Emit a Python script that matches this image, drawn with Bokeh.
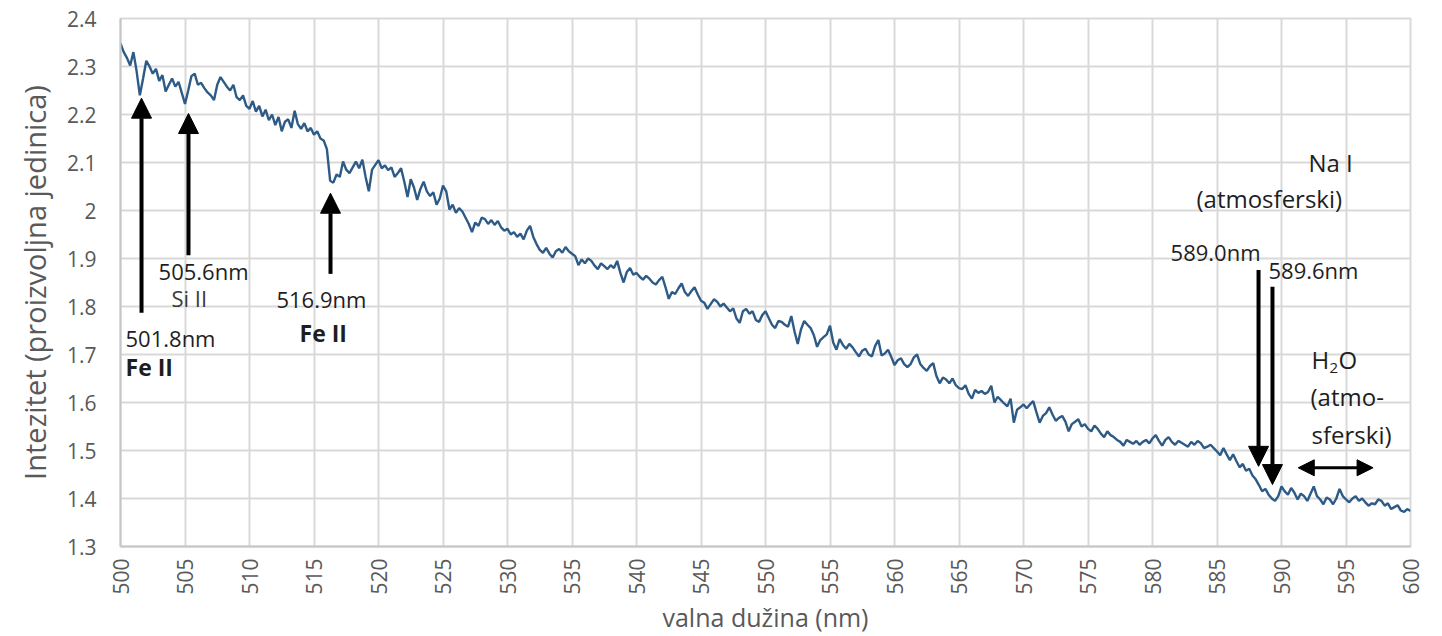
import numpy as np
from bokeh.plotting import figure
from bokeh.models import (Range1d, FixedTicker, NumeralTickFormatter, Label, Arrow,
                          NormalHead, ColumnDataSource)
from bokeh.embed import file_html
from bokeh.resources import INLINE

# ---------------- data ----------------
wl_start = 500.0
wl_step = 0.25
intensity = [
    2.348, 2.330, 2.318, 2.302, 2.330, 2.290, 2.240, 2.275, 2.312, 2.300, 2.285, 2.295,
    2.270, 2.282, 2.248, 2.262, 2.275, 2.258, 2.268, 2.245, 2.222, 2.250, 2.280, 2.285,
    2.262, 2.266, 2.255, 2.246, 2.240, 2.230, 2.262, 2.278, 2.268, 2.258, 2.250, 2.262,
    2.236, 2.230, 2.240, 2.218, 2.212, 2.228, 2.206, 2.218, 2.196, 2.210, 2.188, 2.200,
    2.178, 2.195, 2.165, 2.185, 2.190, 2.172, 2.208, 2.180, 2.170, 2.182, 2.165, 2.172,
    2.158, 2.165, 2.150, 2.146, 2.128, 2.062, 2.058, 2.075, 2.070, 2.102, 2.085, 2.078,
    2.090, 2.102, 2.088, 2.106, 2.070, 2.040, 2.085, 2.095, 2.105, 2.088, 2.094, 2.084,
    2.090, 2.070, 2.078, 2.088, 2.060, 2.028, 2.065, 2.048, 2.022, 2.045, 2.060, 2.040,
    2.030, 2.038, 2.012, 2.025, 2.052, 2.040, 2.002, 2.012, 1.995, 2.005, 1.998, 1.985,
    1.972, 1.955, 1.975, 1.968, 1.985, 1.982, 1.972, 1.980, 1.970, 1.978, 1.965, 1.958,
    1.962, 1.950, 1.955, 1.945, 1.952, 1.940, 1.958, 1.968, 1.945, 1.930, 1.918, 1.912,
    1.922, 1.910, 1.902, 1.915, 1.920, 1.912, 1.924, 1.915, 1.910, 1.905, 1.886, 1.898,
    1.890, 1.900, 1.895, 1.885, 1.878, 1.890, 1.884, 1.878, 1.886, 1.880, 1.895, 1.870,
    1.850, 1.872, 1.880, 1.866, 1.870, 1.862, 1.856, 1.864, 1.858, 1.850, 1.846, 1.855,
    1.862, 1.840, 1.816, 1.830, 1.826, 1.838, 1.848, 1.830, 1.822, 1.832, 1.840, 1.825,
    1.812, 1.808, 1.795, 1.805, 1.815, 1.810, 1.800, 1.806, 1.798, 1.790, 1.796, 1.775,
    1.766, 1.790, 1.795, 1.785, 1.790, 1.772, 1.768, 1.782, 1.790, 1.776, 1.762, 1.755,
    1.770, 1.768, 1.762, 1.758, 1.780, 1.748, 1.722, 1.752, 1.770, 1.762, 1.755, 1.740,
    1.716, 1.730, 1.736, 1.742, 1.760, 1.725, 1.710, 1.732, 1.720, 1.712, 1.722, 1.715,
    1.705, 1.696, 1.708, 1.712, 1.700, 1.696, 1.718, 1.730, 1.698, 1.702, 1.710, 1.695,
    1.678, 1.688, 1.692, 1.680, 1.674, 1.680, 1.694, 1.700, 1.680, 1.672, 1.666, 1.676,
    1.682, 1.655, 1.640, 1.652, 1.648, 1.640, 1.650, 1.636, 1.630, 1.628, 1.636, 1.618,
    1.608, 1.626, 1.620, 1.624, 1.618, 1.622, 1.635, 1.600, 1.612, 1.605, 1.598, 1.592,
    1.608, 1.558, 1.585, 1.590, 1.596, 1.588, 1.596, 1.603, 1.580, 1.558, 1.572, 1.578,
    1.590, 1.575, 1.562, 1.568, 1.572, 1.560, 1.540, 1.555, 1.560, 1.565, 1.550, 1.555,
    1.545, 1.540, 1.552, 1.545, 1.535, 1.528, 1.540, 1.532, 1.528, 1.522, 1.518, 1.510,
    1.522, 1.518, 1.514, 1.520, 1.512, 1.518, 1.522, 1.515, 1.525, 1.532, 1.520, 1.510,
    1.522, 1.528, 1.518, 1.512, 1.520, 1.516, 1.512, 1.508, 1.518, 1.512, 1.520, 1.515,
    1.505, 1.508, 1.512, 1.505, 1.498, 1.490, 1.505, 1.492, 1.480, 1.492, 1.478, 1.465,
    1.472, 1.458, 1.462, 1.448, 1.440, 1.428, 1.415, 1.420, 1.408, 1.400, 1.395, 1.405,
    1.425, 1.415, 1.408, 1.422, 1.412, 1.398, 1.410, 1.405, 1.395, 1.410, 1.425, 1.405,
    1.398, 1.388, 1.402, 1.398, 1.388, 1.400, 1.420, 1.405, 1.398, 1.392, 1.400, 1.405,
    1.395, 1.400, 1.392, 1.385, 1.390, 1.388, 1.398, 1.395, 1.385, 1.390, 1.378, 1.382,
    1.386, 1.375, 1.372, 1.378, 1.374,
]
wavelength = [wl_start + i * wl_step for i in range(len(intensity))]

x_ticks = [500, 505, 510, 515, 520, 525, 530, 535, 540, 545, 550, 555, 560, 565, 570,
           575, 580, 585, 590, 595, 600]
y_ticks = [1.3, 1.4, 1.5, 1.6, 1.7, 1.8, 1.9, 2.0, 2.1, 2.2, 2.3, 2.4]

# absorption line markers (as drawn in the picture): x, y_from, y_to
up_arrows = [(501.63, 1.787, 2.234), (505.27, 1.907, 2.202), (516.28, 1.868, 2.036)]
down_arrows = [(588.22, 1.876, 1.467), (589.30, 1.841, 1.429)]
h2o_band = (591.3, 597.1, 1.464)

FONT = "Open Sans"
GRID = "#d9d9d9"
TXT_GREY = "#595959"
TXT_DARK = "#1e1e1e"

p = figure(width=1442, height=636, output_backend="svg", toolbar_location=None,
           x_range=Range1d(500, 600), y_range=Range1d(1.3, 2.4),
           min_border_left=120, min_border_right=32, min_border_top=18, min_border_bottom=89)
p.background_fill_color = "white"
p.border_fill_color = "white"
p.outline_line_color = GRID
p.outline_line_width = 2

src = ColumnDataSource(dict(x=wavelength, y=intensity))
p.line("x", "y", source=src, line_color="#2d5b86", line_width=2.4)

for ax in (p.xaxis[0], p.yaxis[0]):
    ax.axis_line_color = "#c6c6c6"
    ax.axis_line_width = 2
    ax.major_tick_line_color = None
    ax.minor_tick_line_color = None
    ax.major_tick_out = 0
    ax.major_tick_in = 0
    ax.major_label_text_color = TXT_GREY
    ax.major_label_text_font = FONT
    ax.major_label_text_font_size = "21px"
    ax.axis_label_text_color = TXT_GREY
    ax.axis_label_text_font = FONT
    ax.axis_label_text_font_style = "normal"

p.xaxis.ticker = FixedTicker(ticks=x_ticks)
p.xaxis.major_label_orientation = np.pi / 2
p.xaxis.major_label_standoff = 12
p.xaxis.axis_label = "valna dužina (nm)"
p.xaxis.axis_label_text_font_size = "25px"
p.xaxis.axis_label_standoff = 2

p.yaxis.ticker = FixedTicker(ticks=y_ticks)
p.yaxis.formatter = NumeralTickFormatter(format="0.[0]")
p.yaxis.major_label_standoff = 24
p.yaxis.axis_label = "Intezitet (proizvoljna jedinica)"
p.yaxis.axis_label_text_font_size = "29px"
p.yaxis.axis_label_standoff = 10

p.xgrid.ticker = FixedTicker(ticks=x_ticks)
p.ygrid.ticker = FixedTicker(ticks=y_ticks)
p.grid.grid_line_color = GRID
p.grid.grid_line_width = 2

# arrows
for x, y0, y1 in up_arrows + down_arrows:
    p.add_layout(Arrow(x_start=x, y_start=y0, x_end=x, y_end=y1, line_width=4, line_color="black",
                       end=NormalHead(size=20, fill_color="black", line_color="black", line_width=1)))
hx0, hx1, hy = h2o_band
p.add_layout(Arrow(x_start=hx0, y_start=hy, x_end=hx1, y_end=hy, line_width=3, line_color="black",
                   start=NormalHead(size=16, fill_color="black", line_color="black", line_width=1),
                   end=NormalHead(size=16, fill_color="black", line_color="black", line_width=1)))

def lab(text, x, y, size="22px", color=TXT_DARK, style="normal", xo=0, yo=0):
    p.add_layout(Label(x=x, y=y, text=text, text_font=FONT, text_font_size=size,
                       text_color=color, text_font_style=style, text_baseline="middle",
                       text_align="left", x_offset=xo, y_offset=yo))

lab("505.6nm", 502.95, 1.874)
lab("Si II", 503.95, 1.818, color="#3a3a3a")
lab("501.8nm", 500.39, 1.735)
lab("Fe II", 500.39, 1.674, size="23px", style="bold")
lab("516.9nm", 512.09, 1.816)
lab("Fe II", 513.88, 1.745, size="23px", style="bold")
lab("Na I", 592.09, 2.101, size="24px")
lab("(atmosferski)", 583.41, 2.024, size="24px")
lab("589.0nm", 581.40, 1.913)
lab("589.6nm", 588.99, 1.876)
lab("H", 592.33, 1.689, size="24px")
lab("2", 592.33, 1.689, size="15px", xo=18, yo=-8)
lab("O", 592.33, 1.689, size="24px", xo=27)
lab("(atmo-", 592.25, 1.612, size="24px")
lab("sferski)", 592.33, 1.533, size="24px")

open("out.html", "w").write(file_html(p, INLINE))
